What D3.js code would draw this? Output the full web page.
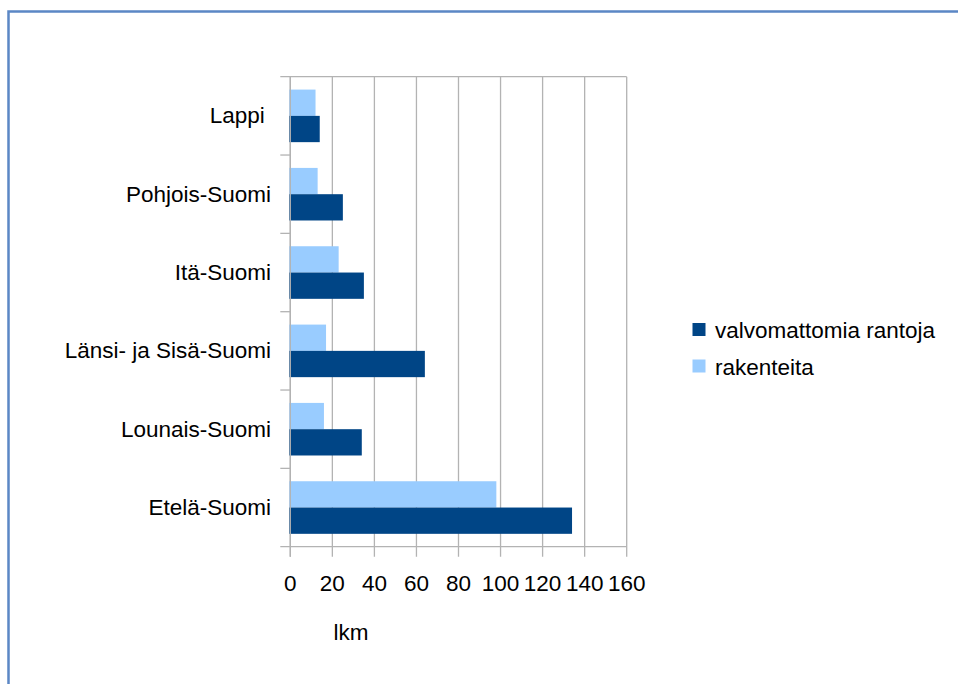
<!DOCTYPE html>
<html>
<head>
<meta charset="utf-8">
<script src="https://cdn.jsdelivr.net/npm/d3@7"></script>
<style>
  html, body { margin: 0; padding: 0; background: #fff; }
  svg text { font-family: "Liberation Sans", Arial, sans-serif; fill: #000; }
</style>
</head>
<body>
<svg id="chart" width="958" height="684"></svg>
<script>
// Alueet (ylhäältä alas) ja sarjat
const regions = ["Lappi ", "Pohjois-Suomi", "Itä-Suomi", "Länsi- ja Sisä-Suomi", "Lounais-Suomi", "Etelä-Suomi"];
const seriesNames = ["valvomattomia rantoja", "rakenteita"];
const valvomattomia = [14, 25, 35, 64, 34, 134];
const rakenteita = [12, 13, 23, 17, 16, 98];
const xTicks = [0, 20, 40, 60, 80, 100, 120, 140, 160];
const axisTitle = "lkm";

const colors = { dark: "#004586", light: "#99ccff", grid: "#b3b3b3", frame: "#5b87c5" };
const fontSize = 22.5;

const svg = d3.select("#chart");

// Kehys
svg.append("rect")
  .attr("x", 8.5).attr("y", 11.5)
  .attr("width", 1000).attr("height", 700)
  .attr("fill", "none")
  .attr("stroke", colors.frame)
  .attr("stroke-width", 2.5);

const plot = { left: 290.3, right: 626.7, top: 76.7, bottom: 546.7 };

const x = d3.scaleLinear().domain([0, 160]).range([plot.left, plot.right]);
const y = d3.scaleBand().domain(regions).range([plot.top, plot.bottom]);
const inner = d3.scaleBand().domain(["rakenteita", "valvomattomia"])
  .range([0, y.bandwidth()]).paddingOuter(0.49).paddingInner(0);

const g = svg.append("g");

// Pystysuorat apuviivat ja x-akselin merkit
g.selectAll("line.grid").data(xTicks).join("line")
  .attr("class", "grid")
  .attr("x1", d => x(d)).attr("x2", d => x(d))
  .attr("y1", plot.top).attr("y2", plot.bottom + 10)
  .attr("stroke", colors.grid).attr("stroke-width", 1.3);

// Ylä- ja alareuna
[plot.top, plot.bottom].forEach(yy => {
  g.append("line")
    .attr("x1", plot.left - 10).attr("x2", plot.right)
    .attr("y1", yy).attr("y2", yy)
    .attr("stroke", colors.grid).attr("stroke-width", 1.3);
});

// Luokkien rajamerkit
const bounds = regions.map(r => y(r)).slice(1);
g.selectAll("line.ytick").data(bounds).join("line")
  .attr("class", "ytick")
  .attr("x1", plot.left - 10).attr("x2", plot.left)
  .attr("y1", d => d).attr("y2", d => d)
  .attr("stroke", colors.grid).attr("stroke-width", 1.3);

// Palkit
g.selectAll("rect.light").data(regions).join("rect")
  .attr("class", "light")
  .attr("x", x(0) - 1)
  .attr("y", (d) => y(d) + inner("rakenteita"))
  .attr("width", (d, i) => x(rakenteita[i]) - x(0) + 1)
  .attr("height", inner.bandwidth())
  .attr("fill", colors.light);

g.selectAll("rect.dark").data(regions).join("rect")
  .attr("class", "dark")
  .attr("x", x(0) - 1)
  .attr("y", (d) => y(d) + inner("valvomattomia"))
  .attr("width", (d, i) => x(valvomattomia[i]) - x(0) + 1)
  .attr("height", inner.bandwidth())
  .attr("fill", colors.dark);

// Vasen akseliviiva
g.append("line")
  .attr("x1", plot.left).attr("x2", plot.left)
  .attr("y1", plot.top).attr("y2", plot.bottom + 10)
  .attr("stroke", colors.grid).attr("stroke-width", 1.3);

// Luokkien nimet
g.selectAll("text.cat").data(regions).join("text")
  .attr("class", "cat")
  .attr("x", 271)
  .attr("y", d => y(d) + y.bandwidth() / 2 + 7.5)
  .attr("text-anchor", "end")
  .attr("font-size", fontSize)
  .style("white-space", "pre")
  .attr("xml:space", "preserve")
  .text(d => d);

// X-akselin luvut
g.selectAll("text.xt").data(xTicks).join("text")
  .attr("class", "xt")
  .attr("x", d => x(d))
  .attr("y", 591)
  .attr("text-anchor", "middle")
  .attr("font-size", fontSize)
  .text(d => d);

g.append("text")
  .attr("x", 351).attr("y", 640)
  .attr("text-anchor", "middle")
  .attr("font-size", fontSize)
  .text(axisTitle);

// Selite
const legend = svg.append("g").attr("transform", "translate(692.5,323)");
const legendColors = [colors.dark, colors.light];
seriesNames.forEach((name, i) => {
  const row = legend.append("g").attr("transform", `translate(0,${i * 36.5})`);
  row.append("rect").attr("width", 13).attr("height", 13).attr("fill", legendColors[i]);
  row.append("text").attr("x", 22.5).attr("y", 15.3).attr("font-size", fontSize).text(name);
});
</script>
</body>
</html>
